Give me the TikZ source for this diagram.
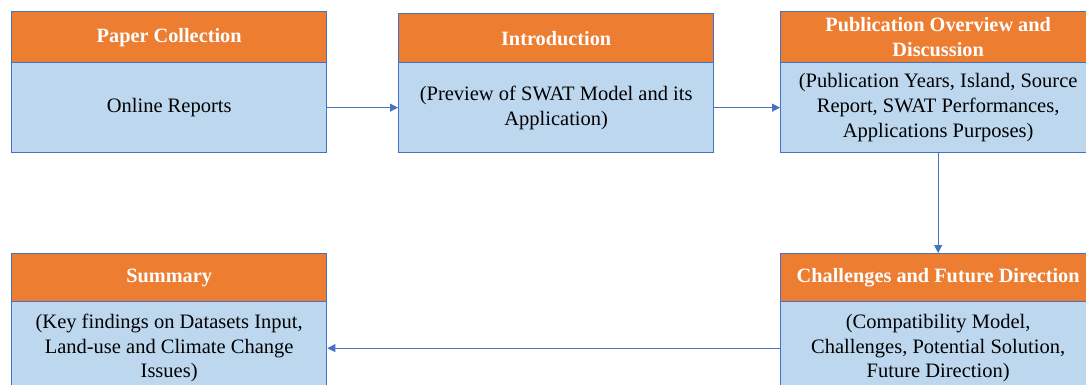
\documentclass[tikz,border=0pt]{standalone}
\usepackage{fontspec}
\setmainfont{Liberation Serif}
\newfontfamily\panelfont{Liberation Serif}
\usetikzlibrary{arrows.meta}
\definecolor{headorange}{HTML}{ED7D31}
\definecolor{bodyblue}{HTML}{BDD7EE}
\definecolor{edgeblue}{HTML}{4472C4}
\tikzset{
  panel/.style={draw=edgeblue, line width=1.3pt, align=center, inner sep=0pt,
    minimum width=315pt, anchor=north west,
    font=\panelfont\fontsize{20.5}{24.8}\selectfont},
  head/.style={panel, fill=headorange, text=white,
    font=\panelfont\bfseries\fontsize{20.3}{24.8}\selectfont},
  body/.style={panel, fill=bodyblue, text=black},
  link/.style={draw=edgeblue, line width=0.9pt,
    -{Triangle[length=8pt,width=8pt]}}
}
\begin{document}
\begin{tikzpicture}[x=1pt,y=-1pt]
  \useasboundingbox (0,0) rectangle (1086,385);
  \clip (0,0) rectangle (1086,385);
  % top row
  \node[body, minimum height=90pt] (b1) at (11,62) {Online Reports};
  \node[head, minimum height=51pt] (h1) at (11,11) {Paper Collection};
  \node[body, minimum height=90pt] (b2) at (398,62) {(Preview of SWAT Model and its\\Application)};
  \node[head, minimum height=49pt] (h2) at (398,13) {Introduction};
  \node[body, minimum height=90pt] (b3) at (780,62) {(Publication Years, Island, Source\\Report, SWAT Performances,\\Applications Purposes)};
  \node[head, minimum height=51pt] (h3) at (780,11) {Publication Overview and\\Discussion};
  % bottom row
  \node[body, minimum height=93pt] (b4) at (11,301) {(Key findings on Datasets Input,\\Land-use and Climate Change\\Issues)};
  \node[head, minimum height=48pt] (h4) at (11,253) {Summary};
  \node[body, minimum height=93pt] (b5) at (780,301) {(Compatibility Model,\\Challenges, Potential Solution,\\Future Direction)};
  \node[head, minimum height=48pt] (h5) at (780,253) {Challenges and Future Direction};
  % flow
  \draw[link] (b1.east) -- (b2.west);
  \draw[link] (b2.east) -- (b3.west);
  \draw[link] (b3.south) -- (h5.north);
  \draw[link] (b5.west) -- (b4.east);
\end{tikzpicture}
\end{document}
